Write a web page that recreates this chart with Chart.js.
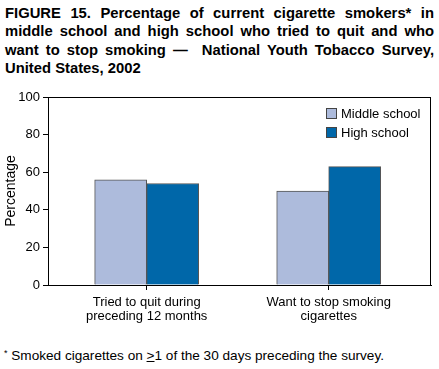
<!DOCTYPE html>
<html>
<head>
<meta charset="utf-8">
<script src="https://cdn.jsdelivr.net/npm/chart.js@4"></script>
<style>
  body { margin: 0; background: #fff; font-family: "Liberation Sans", Arial, Helvetica, sans-serif; }
  #titulo {
    position: absolute; left: 5px; top: 4px; width: 429px;
    font-weight: bold; font-size: 14.8px; line-height: 18.3px; color: #000;
  }
  #titulo span { display: block; text-align: justify; text-align-last: justify; white-space: nowrap; }
  #titulo span.ultima { text-align-last: left; }
  #box { position: absolute; left: 0; top: 85px; width: 439px; height: 245px; }
  #nota { position: absolute; left: 4px; top: 345px; font-size: 13.6px; line-height: 16px; color: #000; }
</style>
</head>
<body>
<div id="titulo">
  <span>FIGURE 15. Percentage of current cigarette smokers* in</span>
  <span>middle school and high school who tried to quit and who</span>
  <span>want to stop smoking &mdash;&nbsp; National Youth Tobacco Survey,</span>
  <span class="ultima">United States, 2002</span>
</div>
<div id="box"><canvas id="grafico"></canvas></div>
<div id="nota"><span style="font-size:9px;vertical-align:4px">*</span> Smoked cigarettes on <u>&gt;</u>1 of the 30 days preceding the survey.</div>
<script>
// Dados
const categorias = [
  ["Tried to quit during", "preceding 12 months"],
  ["Want to stop smoking", "cigarettes"]
];
const series = ["Middle school", "High school"];
const ensinoFundamental = [56, 50];
const ensinoMedio = [54, 63];
const valoresY = [0, 20, 40, 60, 80, 100];

const cores = ["#adbbdc", "#0067a9"];
const fonte = "'Liberation Sans', Arial, Helvetica, sans-serif";

// Legenda desenhada dentro da area do grafico
const legendaInterna = {
  id: 'legendaInterna',
  afterDraw(chart) {
    const ctx = chart.ctx;
    const area = chart.chartArea;
    ctx.save();
    ctx.font = "13px " + fonte;
    ctx.textBaseline = 'middle';
    chart.data.datasets.forEach((ds, i) => {
      const x = Math.round(area.right - 105);
      const y = Math.round(area.top + 11 + i * 18.5);
      ctx.fillStyle = ds.backgroundColor;
      ctx.fillRect(x, y, 11, 11);
      ctx.strokeStyle = '#444';
      ctx.lineWidth = 1;
      ctx.strokeRect(x + 0.5, y + 0.5, 10, 10);
      ctx.fillStyle = '#000';
      ctx.fillText(ds.label, x + 15, y + 6);
    });
    ctx.restore();
  }
};

// Moldura em volta da area do grafico
const moldura = {
  id: 'moldura',
  afterDraw(chart) {
    const a = chart.chartArea;
    const ctx = chart.ctx;
    ctx.save();
    ctx.strokeStyle = '#000';
    ctx.lineWidth = 1;
    ctx.strokeRect(Math.round(a.left) + 0.5, Math.round(a.top) + 0.5,
      Math.round(a.right - a.left) - 1, Math.round(a.bottom - a.top));
    ctx.restore();
  }
};

const ctx = document.getElementById('grafico').getContext('2d');
new Chart(ctx, {
  type: 'bar',
  data: {
    datasets: [
      { label: series[0], data: ensinoFundamental.map((v, i) => ({ x: i, y: v })), backgroundColor: cores[0] },
      { label: series[1], data: ensinoMedio.map((v, i) => ({ x: i, y: v })), backgroundColor: cores[1] }
    ]
  },
  options: {
    responsive: true,
    maintainAspectRatio: false,
    animation: false,
    layout: { padding: { top: 12, right: 8, left: 0, bottom: 0 } },
    datasets: {
      bar: {
        barThickness: 52,
        borderColor: '#555',
        borderWidth: 1,
        borderSkipped: 'bottom'
      }
    },
    scales: {
      x: {
        type: 'linear',
        min: -0.542,
        max: 1.562,
        bounds: 'data',
        offset: false,
        afterBuildTicks: s => { s.ticks = categorias.map((c, i) => ({ value: i })); },
        grid: { display: true, drawOnChartArea: false, offset: false, tickLength: 5, color: '#000' },
        border: { display: true, color: '#000' },
        ticks: {
          color: '#000',
          font: { family: fonte, size: 13, lineHeight: 1.08 },
          padding: 5,
          maxRotation: 0,
          autoSkip: false,
          callback: v => categorias[v]
        },
        afterFit: s => { s.height = 45; }
      },
      y: {
        min: 0,
        max: 100,
        afterBuildTicks: s => { s.ticks = valoresY.map(v => ({ value: v })); },
        grid: { display: true, drawOnChartArea: false, tickLength: 5, color: '#000' },
        border: { display: true, color: '#000' },
        ticks: { color: '#000', font: { family: fonte, size: 13 }, padding: 3 },
        title: {
          display: true,
          text: 'Percentage',
          color: '#000',
          font: { family: fonte, size: 14 },
          padding: { top: 3, bottom: 0 }
        },
        afterFit: s => { s.width = 48; }
      }
    },
    plugins: {
      legend: { display: false },
      tooltip: { enabled: false }
    }
  },
  plugins: [moldura, legendaInterna]
});
</script>
</body>
</html>
